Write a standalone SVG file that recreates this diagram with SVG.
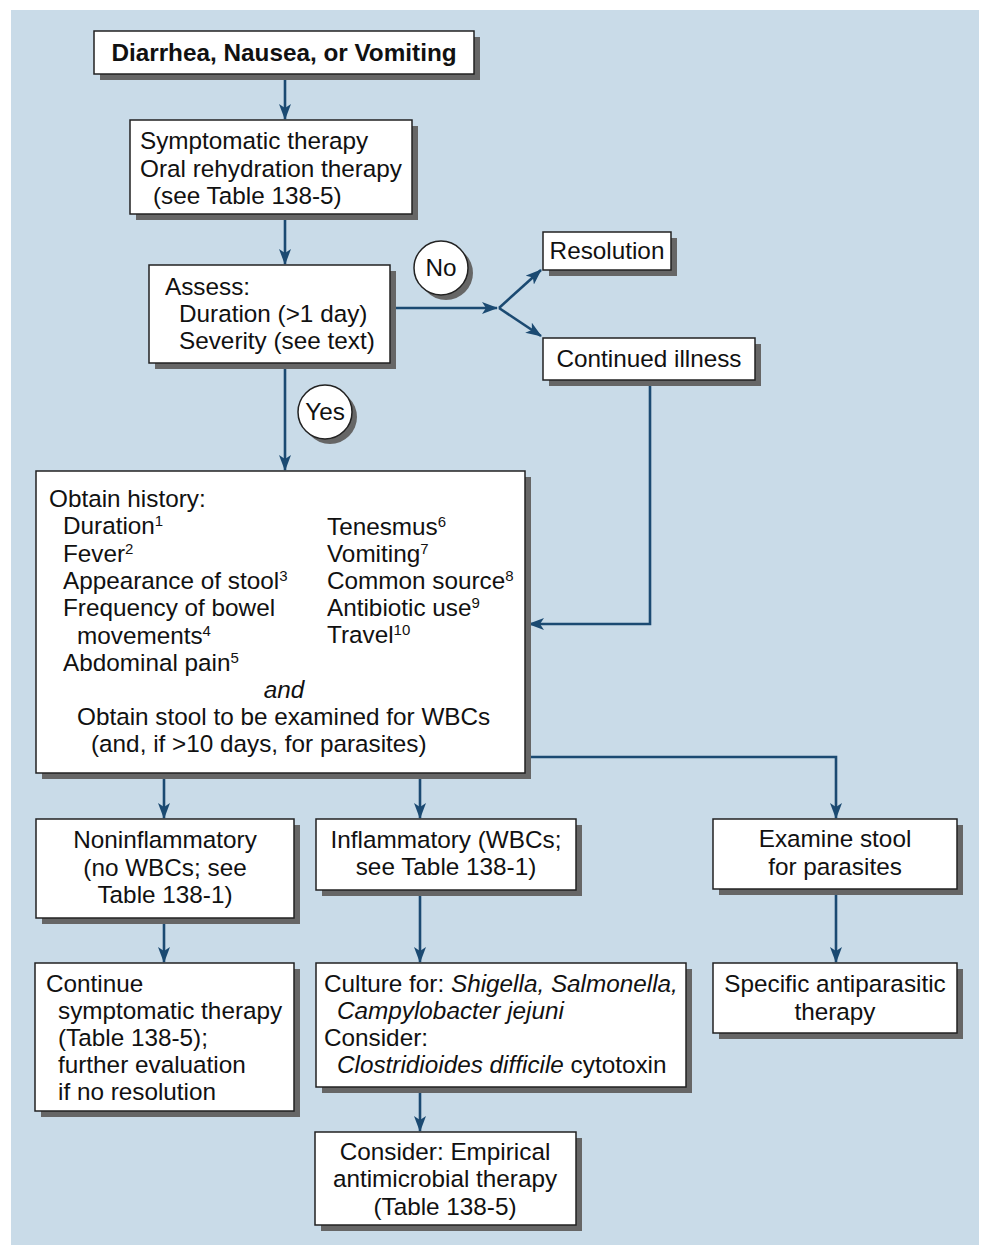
<svg xmlns="http://www.w3.org/2000/svg" width="990" height="1256" viewBox="0 0 990 1256">
<defs>
<style>
.bx{fill:#fff;stroke:#222;stroke-width:1.5}
.sh{fill:#666}
.t{font-family:"Liberation Sans",Arial,sans-serif;font-size:24.3px;fill:#111}
.b{font-weight:bold}
.i{font-style:italic}
.c{text-anchor:middle}
.ln{fill:none;stroke:#1b4a72;stroke-width:2.6}
.sup{font-size:15px}
</style>
<marker id="ah" viewBox="0 0 16 12" refX="15" refY="6" markerWidth="16" markerHeight="12" markerUnits="userSpaceOnUse" orient="auto">
<path d="M0,0 L16,6 L0,12 L4,6 Z" fill="#1b4a72"/>
</marker>
</defs>
<rect x="11" y="10" width="968" height="1235" fill="#c9dbe8"/>

<g id="connectors">
<line class="ln" x1="285" y1="74" x2="285" y2="119" marker-end="url(#ah)"/>
<line class="ln" x1="285" y1="214" x2="285" y2="264" marker-end="url(#ah)"/>
<line class="ln" x1="390" y1="308" x2="497" y2="308" marker-end="url(#ah)"/>
<line class="ln" x1="499" y1="308" x2="541" y2="270" marker-end="url(#ah)"/>
<line class="ln" x1="499" y1="308" x2="541" y2="336" marker-end="url(#ah)"/>
<line class="ln" x1="285" y1="363" x2="285" y2="470" marker-end="url(#ah)"/>
<polyline class="ln" points="650,380 650,624 529,624" marker-end="url(#ah)"/>
<line class="ln" x1="164" y1="773" x2="164" y2="818" marker-end="url(#ah)"/>
<line class="ln" x1="420" y1="773" x2="420" y2="818" marker-end="url(#ah)"/>
<polyline class="ln" points="525,757 836,757 836,818" marker-end="url(#ah)"/>
<line class="ln" x1="164" y1="918" x2="164" y2="962" marker-end="url(#ah)"/>
<line class="ln" x1="420" y1="890" x2="420" y2="962" marker-end="url(#ah)"/>
<line class="ln" x1="836" y1="889" x2="836" y2="962" marker-end="url(#ah)"/>
<line class="ln" x1="420" y1="1087" x2="420" y2="1131" marker-end="url(#ah)"/>
</g>

<g id="n-start">
<rect class="sh" x="100" y="37" width="380" height="43"/>
<rect class="bx" x="94" y="31" width="380" height="43"/>
<text class="t b c" x="284" y="61">Diarrhea, Nausea, or Vomiting</text>
</g>

<g id="n-symptomatic">
<rect class="sh" x="136" y="126" width="282" height="94"/>
<rect class="bx" x="130" y="120" width="282" height="94"/>
<text class="t" x="140" y="149">Symptomatic therapy</text>
<text class="t" x="140" y="177">Oral rehydration therapy</text>
<text class="t" x="153" y="204">(see Table 138-5)</text>
</g>

<g id="n-assess">
<rect class="sh" x="155" y="271" width="241" height="98"/>
<rect class="bx" x="149" y="265" width="241" height="98"/>
<text class="t" x="165" y="295">Assess:</text>
<text class="t" x="179" y="322">Duration (&gt;1 day)</text>
<text class="t" x="179" y="349">Severity (see text)</text>
</g>

<g id="c-no">
<circle cx="446" cy="273" r="27" fill="#666"/>
<circle cx="441" cy="268" r="27" fill="#fff" stroke="#222" stroke-width="1.5"/>
<text class="t c" x="441" y="276">No</text>
</g>

<g id="n-resolution">
<rect class="sh" x="549" y="238" width="128" height="38"/>
<rect class="bx" x="543" y="232" width="128" height="38"/>
<text class="t c" x="607" y="259">Resolution</text>
</g>

<g id="n-continued">
<rect class="sh" x="549" y="344" width="212" height="42"/>
<rect class="bx" x="543" y="338" width="212" height="42"/>
<text class="t c" x="649" y="367">Continued illness</text>
</g>

<g id="c-yes">
<circle cx="330" cy="417" r="27" fill="#666"/>
<circle cx="325" cy="412" r="27" fill="#fff" stroke="#222" stroke-width="1.5"/>
<text class="t c" x="325" y="420">Yes</text>
</g>

<g id="n-history">
<rect class="sh" x="42" y="477" width="489" height="302"/>
<rect class="bx" x="36" y="471" width="489" height="302"/>
<text class="t" x="49" y="507">Obtain history:</text>
<text class="t" x="63" y="534">Duration<tspan class="sup" dy="-8">1</tspan></text>
<text class="t" x="63" y="562">Fever<tspan class="sup" dy="-8">2</tspan></text>
<text class="t" x="63" y="589">Appearance of stool<tspan class="sup" dy="-8">3</tspan></text>
<text class="t" x="63" y="616">Frequency of bowel</text>
<text class="t" x="77" y="644">movements<tspan class="sup" dy="-8">4</tspan></text>
<text class="t" x="63" y="671">Abdominal pain<tspan class="sup" dy="-8">5</tspan></text>
<text class="t" x="327" y="535">Tenesmus<tspan class="sup" dy="-8">6</tspan></text>
<text class="t" x="327" y="562">Vomiting<tspan class="sup" dy="-8">7</tspan></text>
<text class="t" x="327" y="589">Common source<tspan class="sup" dy="-8">8</tspan></text>
<text class="t" x="327" y="616">Antibiotic use<tspan class="sup" dy="-8">9</tspan></text>
<text class="t" x="327" y="643">Travel<tspan class="sup" dy="-8">10</tspan></text>
<text class="t i c" x="284" y="698">and</text>
<text class="t" x="77" y="725">Obtain stool to be examined for WBCs</text>
<text class="t" x="91" y="752">(and, if &gt;10 days, for parasites)</text>
</g>

<g id="n-noninflammatory">
<rect class="sh" x="42" y="825" width="258" height="99"/>
<rect class="bx" x="36" y="819" width="258" height="99"/>
<text class="t c" x="165" y="848">Noninflammatory</text>
<text class="t c" x="165" y="876">(no WBCs; see</text>
<text class="t c" x="165" y="903">Table 138-1)</text>
</g>

<g id="n-inflammatory">
<rect class="sh" x="322" y="825" width="260" height="71"/>
<rect class="bx" x="316" y="819" width="260" height="71"/>
<text class="t c" x="446" y="848">Inflammatory (WBCs;</text>
<text class="t c" x="446" y="875">see Table 138-1)</text>
</g>

<g id="n-examine">
<rect class="sh" x="719" y="825" width="244" height="70"/>
<rect class="bx" x="713" y="819" width="244" height="70"/>
<text class="t c" x="835" y="847">Examine stool</text>
<text class="t c" x="835" y="875">for parasites</text>
</g>

<g id="n-continue">
<rect class="sh" x="41" y="969" width="259" height="148"/>
<rect class="bx" x="35" y="963" width="259" height="148"/>
<text class="t" x="46" y="992">Continue</text>
<text class="t" x="58" y="1019">symptomatic therapy</text>
<text class="t" x="58" y="1046">(Table 138-5);</text>
<text class="t" x="58" y="1073">further evaluation</text>
<text class="t" x="58" y="1100">if no resolution</text>
</g>

<g id="n-culture">
<rect class="sh" x="322" y="969" width="370" height="124"/>
<rect class="bx" x="316" y="963" width="370" height="124"/>
<text class="t" x="324" y="992">Culture for: <tspan class="i">Shigella, Salmonella,</tspan></text>
<text class="t i" x="337" y="1019">Campylobacter jejuni</text>
<text class="t" x="324" y="1046">Consider:</text>
<text class="t" x="337" y="1073"><tspan class="i">Clostridioides difficile</tspan> cytotoxin</text>
</g>

<g id="n-antiparasitic">
<rect class="sh" x="719" y="969" width="244" height="70"/>
<rect class="bx" x="713" y="963" width="244" height="70"/>
<text class="t c" x="835" y="992">Specific antiparasitic</text>
<text class="t c" x="835" y="1020">therapy</text>
</g>

<g id="n-empirical">
<rect class="sh" x="321" y="1138" width="261" height="93"/>
<rect class="bx" x="315" y="1132" width="261" height="93"/>
<text class="t c" x="445" y="1160">Consider: Empirical</text>
<text class="t c" x="445" y="1187">antimicrobial therapy</text>
<text class="t c" x="445" y="1215">(Table 138-5)</text>
</g>
</svg>
